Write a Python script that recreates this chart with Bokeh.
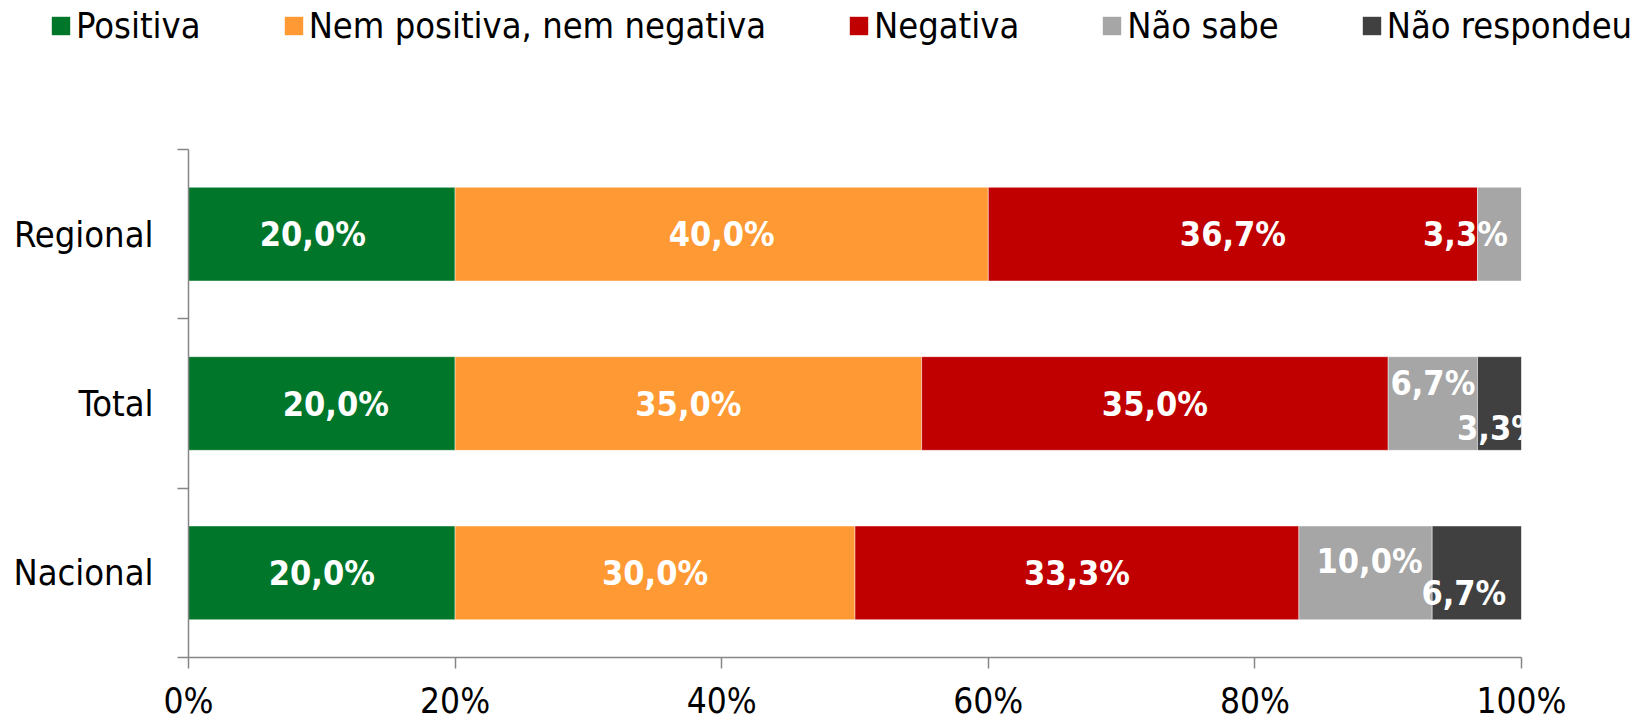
from bokeh.plotting import figure
from bokeh.models import FixedTicker, Legend, LegendItem, ColumnDataSource, Range1d
from bokeh.core.properties import value
from bokeh.embed import file_html
from bokeh.resources import INLINE

# ---- data ----
categories = ["Nacional", "Total", "Regional"]          # bottom -> top
series = ["Positiva", "Nem positiva, nem negativa", "Negativa", "Não sabe", "Não respondeu"]
colors = ["#00762A", "#FF9933", "#C00000", "#A6A6A6", "#404040"]
positiva = [20.0, 20.0, 20.0]
nem = [30.0, 35.0, 40.0]
negativa = [33.3, 35.0, 36.7]
nao_sabe = [10.0, 6.7, 3.3]
nao_resp = [6.7, 3.3, 0.0]
x_ticks = [0, 20, 40, 60, 80, 100]
x_tick_labels = ["0%", "20%", "40%", "60%", "80%", "100%"]

values = [positiva, nem, negativa, nao_sabe, nao_resp]

FONT = "DejaVu Sans Condensed, DejaVu Sans, sans-serif"
W = 1646
LEG_H = 50
BL, BR = 188, 125

ypos = [i + 0.5 for i in range(len(categories))]
bar_h = 0.553

# ---- legend strip: separate root, frame spans the full width ----
# (its bars are outside its visible y range, only the legend shows)
lg = figure(width=W, height=LEG_H, output_backend="svg", toolbar_location=None,
            x_range=Range1d(0, 100), y_range=Range1d(100, 101),
            min_border_left=0, min_border_right=0, min_border_top=0, min_border_bottom=0)
lg.axis.visible = False
lg.grid.visible = False
lg.outline_line_color = None

# ---- main chart ----
p = figure(width=W, height=723 - LEG_H, output_backend="svg", toolbar_location=None,
           x_range=Range1d(0, 100), y_range=Range1d(0, 3),
           min_border_left=BL, min_border_right=BR, min_border_top=149 - LEG_H,
           min_border_bottom=64)
p.outline_line_color = None
p.xgrid.grid_line_color = None
p.ygrid.grid_line_color = None

# label offsets (screen px) for individual labels
x_off = {("Regional", 0): -9, ("Total", 0): 14, ("Regional", 3): -34,
         ("Nacional", 3): 4, ("Nacional", 4): -13}
y_off = {("Total", 3): -21, ("Total", 4): 24, ("Nacional", 3): -12, ("Nacional", 4): 20}

left = [0.0] * len(categories)
leg_items = []
lx, ly, lt, lxo, lyo = [], [], [], [], []
for si, (name, vals, col) in enumerate(zip(series, values, colors)):
    right = [l + v for l, v in zip(left, vals)]
    src = ColumnDataSource(dict(y=ypos, left=left, right=right))
    p.hbar(y="y", left="left", right="right", height=bar_h, source=src,
           fill_color=col, line_color="white", line_alpha=0.45, line_width=1)
    rl = lg.hbar(y="y", left="left", right="right", height=bar_h, source=src,
                 fill_color=col, line_color=None)
    leg_items.append(LegendItem(label=name, renderers=[rl]))
    for ci, cat in enumerate(categories):
        v = vals[ci]
        if v <= 0:
            continue
        lx.append((left[ci] + right[ci]) / 2)
        ly.append(ypos[ci])
        lt.append(("%.1f%%" % v).replace(".", ","))
        lxo.append(x_off.get((cat, si), 0))
        lyo.append(y_off.get((cat, si), 0))
    left = right

legend = Legend(items=leg_items, orientation="horizontal", location=(49, 4),
                glyph_width=23, glyph_height=23, label_standoff=4, spacing=81,
                padding=0, margin=0, border_line_color=None, background_fill_alpha=0,
                label_text_font=FONT, label_text_font_size="36px", label_text_color="black",
                label_height=19)
lg.add_layout(legend, "center")

lsrc = ColumnDataSource(dict(x=lx, y=ly, t=lt, xo=lxo, yo=lyo))
p.text(x="x", y="y", text="t", x_offset="xo", y_offset="yo", source=lsrc,
       text_color="white", text_font=value(FONT), text_font_style="bold",
       text_font_size="34px", text_align="center", text_baseline="middle")

# axes
ax = p.xaxis[0]
ax.ticker = FixedTicker(ticks=x_ticks)
ax.major_label_overrides = {t: l for t, l in zip(x_ticks, x_tick_labels)}
ax.axis_line_color = "#868686"
ax.axis_line_width = 1.5
ax.major_tick_line_color = "#868686"
ax.major_tick_line_width = 1.5
ax.major_tick_out = 11
ax.major_tick_in = 0
ax.minor_tick_out = 0
ax.major_label_standoff = 12
ax.major_label_text_font = FONT
ax.major_label_text_font_size = "35px"
ax.major_label_text_color = "black"

ay = p.yaxis[0]
ay.ticker = FixedTicker(ticks=ypos, minor_ticks=[0, 1, 2, 3])
ay.major_label_overrides = {y: c for y, c in zip(ypos, categories)}
ay.axis_line_color = "#868686"
ay.axis_line_width = 1.5
ay.major_tick_out = 0
ay.major_tick_in = 0
ay.minor_tick_out = 11
ay.minor_tick_in = 0
ay.minor_tick_line_color = "#868686"
ay.minor_tick_line_width = 1.5
ay.major_label_standoff = 24
ay.major_label_text_font = FONT
ay.major_label_text_font_size = "36px"
ay.major_label_text_color = "black"

# two independent roots (no frame alignment between them), stacked vertically
open("out.html", "w").write(file_html([lg, p], INLINE))
